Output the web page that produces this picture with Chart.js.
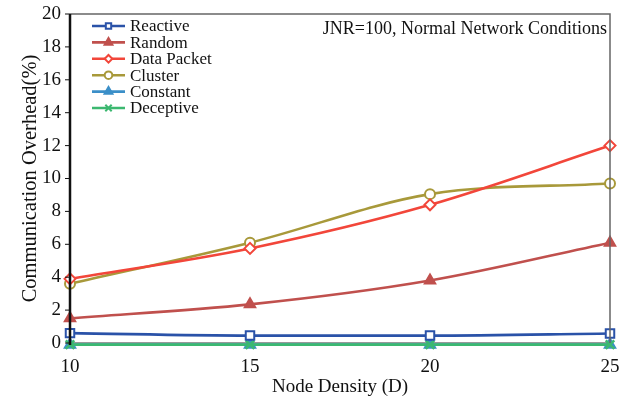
<!DOCTYPE html>
<html>
<head>
<meta charset="utf-8">
<script src="https://cdn.jsdelivr.net/npm/chart.js@4/dist/chart.umd.min.js"></script>
<style>
  html, body { margin: 0; padding: 0; background: #fff; }
  #wrap { width: 636px; height: 403px; }
</style>
</head>
<body>
<div id="wrap"><canvas id="c" width="636" height="403"></canvas></div>
<script>
// Node density levels on the x axis
const nodeDensity = [10, 15, 20, 25];

// Communication overhead (%) per attack type
const reactive    = [0.6, 0.45, 0.45, 0.58];
const random      = [1.5, 2.35, 3.8, 6.1];
const dataPacket  = [3.9, 5.75, 8.4, 12.0];
const cluster     = [3.6, 6.1, 9.05, 9.7];
const constant    = [-0.1, -0.1, -0.1, -0.1];
const deceptive   = [-0.1, -0.1, -0.1, -0.1];

const yTicks = [0, 2, 4, 6, 8, 10, 12, 14, 16, 18, 20];
const scenarioLabel = 'JNR=100, Normal Network Conditions';

const FONT = '"Liberation Serif", "Times New Roman", serif';

function series(label, data, color, style, opts) {
  return Object.assign({
    label,
    data: data.map((v, i) => ({ x: nodeDensity[i], y: v })),
    borderColor: color,
    backgroundColor: color,
    pointBorderColor: color,
    pointBackgroundColor: color,
    pointStyle: style,
    pointRadius: 5,
    pointBorderWidth: 2,
    borderWidth: 2.6,
    cubicInterpolationMode: 'monotone',
    clip: false
  }, opts || {});
}

const datasets = [
  series('Reactive', reactive, '#2a52a8', 'rect', { pointBackgroundColor: '#fff', pointRadius: 6, order: 1 }),
  series('Random', random, '#c0504d', 'triangle', { pointRadius: 6, order: 2 }),
  series('Data Packet', dataPacket, '#f2463a', 'rectRot', { pointBackgroundColor: '#fff', pointRadius: 5.5, order: 3 }),
  series('Cluster', cluster, '#a8993a', 'circle', { pointBackgroundColor: '#fff', pointRadius: 5, order: 4 }),
  series('Constant', constant, '#3b8fc8', 'triangle', { pointRadius: 6, order: 6 }),
  series('Deceptive', deceptive, '#3cb870', 'crossRot', { pointRadius: 6, pointBorderWidth: 2.6, order: 5 })
];

// Frame, legend and scenario caption drawn inside the plot area
const decorations = {
  id: 'decorations',
  afterDraw(chart) {
    const { ctx, chartArea: a } = chart;
    ctx.save();
    // gray frame on top and right
    ctx.strokeStyle = '#666';
    ctx.lineWidth = 1.5;
    ctx.beginPath();
    ctx.moveTo(a.left, a.top);
    ctx.lineTo(a.right, a.top);
    ctx.lineTo(a.right, a.bottom);
    ctx.stroke();
    // black left axis
    ctx.strokeStyle = '#111';
    ctx.lineWidth = 2.5;
    ctx.beginPath();
    ctx.moveTo(a.left, a.top);
    ctx.lineTo(a.left, a.bottom + 2);
    ctx.stroke();
    // y ticks outward
    const ys = chart.scales.y;
    ctx.lineWidth = 1;
    yTicks.forEach(t => {
      const py = ys.getPixelForValue(t);
      ctx.beginPath();
      ctx.moveTo(a.left - 5, py);
      ctx.lineTo(a.left, py);
      ctx.stroke();
    });

    // caption
    ctx.fillStyle = '#111';
    ctx.font = '18px ' + FONT;
    ctx.textAlign = 'right';
    ctx.textBaseline = 'middle';
    ctx.fillText(scenarioLabel, a.right - 3, a.top + 15);

    // legend
    const lx = 92, ly = a.top + 12, step = 16.4;
    ctx.font = '17px ' + FONT;
    ctx.textAlign = 'left';
    chart.data.datasets.forEach((ds, i) => {
      const y = ly + i * step;
      ctx.strokeStyle = ds.borderColor;
      ctx.lineWidth = 2.6;
      ctx.beginPath();
      ctx.moveTo(lx, y);
      ctx.lineTo(lx + 33, y);
      ctx.stroke();
      ctx.fillStyle = ds.pointBackgroundColor;
      ctx.strokeStyle = ds.pointBorderColor;
      ctx.lineWidth = 2;
      Chart.helpers.drawPoint(ctx, {
        pointStyle: ds.pointStyle,
        radius: ds.pointStyle === 'triangle' || ds.pointStyle === 'crossRot' ? 4.5 : 3.8,
        rotation: 0,
        borderWidth: 2
      }, lx + 16.5, y);
      ctx.fillStyle = '#111';
      ctx.fillText(ds.label, lx + 38, y + 1);
    });
    ctx.restore();
  }
};

new Chart(document.getElementById('c'), {
  type: 'line',
  data: { datasets },
  plugins: [decorations],
  options: {
    responsive: false,
    animation: false,
    layout: { padding: { top: 14, right: 26, left: 18, bottom: 5 } },
    plugins: { legend: { display: false }, tooltip: { enabled: false } },
    scales: {
      x: {
        type: 'linear',
        min: 10, max: 25,
        afterBuildTicks: s => { s.ticks = nodeDensity.map(v => ({ value: v })); },
        afterFit: s => { s.height = 55; s.paddingLeft = 0; s.paddingRight = 0; },
        grid: { display: false, drawTicks: false },
        border: { display: true, color: '#999', width: 1.5 },
        ticks: { color: '#111', font: { family: FONT, size: 19 }, padding: 13, maxRotation: 0 },
        title: { display: true, text: 'Node Density (D)', color: '#111', font: { family: FONT, size: 19 }, padding: { top: 0, bottom: 0 } }
      },
      y: {
        min: 0, max: 20,
        afterBuildTicks: s => { s.ticks = yTicks.map(v => ({ value: v })); },
        afterFit: s => { s.width = 52; s.paddingTop = 0; s.paddingBottom = 0; },
        grid: { display: false, drawTicks: false },
        border: { display: false },
        ticks: { color: '#111', font: { family: FONT, size: 19 }, padding: 9 },
        title: { display: true, text: 'Communication Overhead(%)', color: '#111', font: { family: FONT, size: 20.5 }, padding: { top: 0, bottom: 2 } }
      }
    }
  }
});
</script>
</body>
</html>
